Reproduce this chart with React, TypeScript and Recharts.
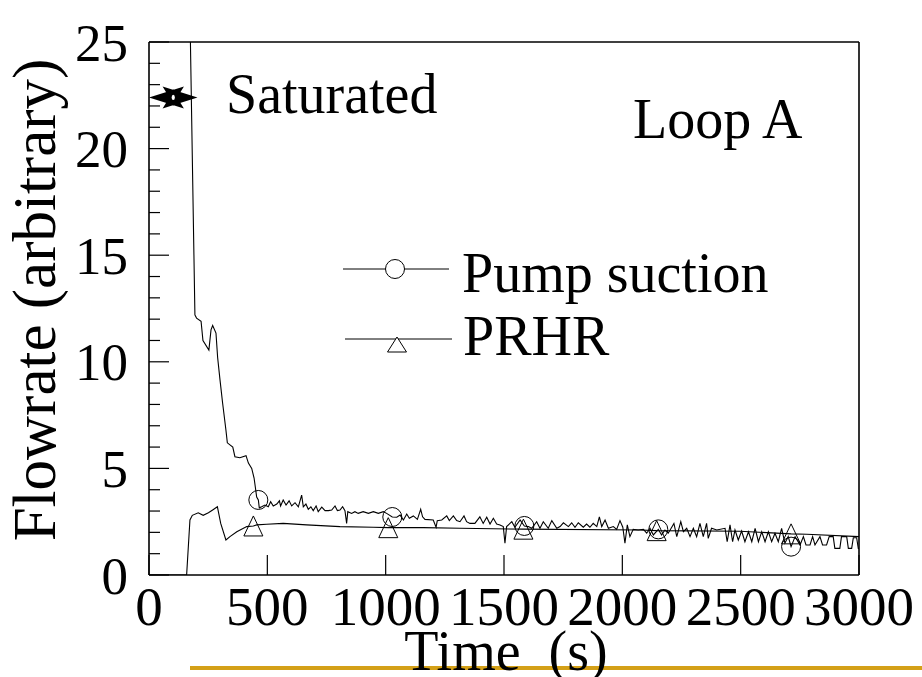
import { LineChart, Line, XAxis, YAxis, ReferenceLine } from 'recharts';

const FONT = '"Liberation Serif", "Times New Roman", serif';

// axis ticks
const timeTicks = [0, 500, 1000, 1500, 2000, 2500, 3000];
const flowTicks = [0, 1, 2, 3, 4, 5, 6, 7, 8, 9, 10, 11, 12, 13, 14, 15, 16, 17, 18, 19, 20, 21, 22, 23, 24, 25];
const flowLabelTicks = [0, 5, 10, 15, 20, 25];

const seriesNames = ['Pump suction', 'PRHR'];

// [time (s), flowrate]
const pumpSuction: [number, number][] = [
  [175, 25], [194, 12.2], [201, 12.05], [220, 11.9], [228, 11.0], [253, 10.55], [262, 11.5], [269, 11.7],
  [283, 11.35], [290, 10.2], [300, 9.15], [311, 8.07], [325, 6.8], [331, 6.2], [354, 6.0], [363, 5.55],
  [384, 5.5], [410, 5.6], [420, 5.25], [434, 5.0], [444, 4.55], [455, 3.66], [462, 3.52], [466, 3.15],
  [476, 3.2], [490, 3.28], [504, 3.2], [514, 3.44], [525, 3.24], [540, 3.33], [551, 3.48], [556, 3.24],
  [567, 3.52], [579, 3.28], [592, 3.48], [603, 3.24], [617, 3.39], [631, 3.2], [645, 3.75], [652, 3.2],
  [663, 3.33], [673, 3.08], [684, 3.2], [694, 3.02], [706, 3.24], [715, 2.97], [730, 3.18], [744, 3.02],
  [758, 3.02], [772, 3.05], [786, 3.24], [796, 3.02], [807, 3.05], [818, 3.2], [828, 3.02], [835, 2.42],
  [840, 2.97], [856, 2.89], [870, 2.97], [884, 2.89], [905, 2.97], [927, 2.89], [948, 2.97], [969, 2.89],
  [990, 2.97], [1004, 2.89], [1028, 2.72], [1047, 2.71], [1061, 2.81], [1075, 2.58], [1089, 2.86], [1100, 2.66],
  [1117, 2.77], [1134, 2.61], [1148, 3.08], [1156, 2.73], [1166, 2.61], [1201, 2.58], [1213, 2.24], [1218, 2.55],
  [1237, 2.58], [1258, 2.77], [1269, 2.55], [1286, 2.77], [1300, 2.55], [1314, 2.5], [1331, 2.77], [1342, 2.5],
  [1356, 2.42], [1377, 2.42], [1398, 2.73], [1412, 2.42], [1427, 2.71], [1441, 2.39], [1455, 2.66], [1469, 2.39],
  [1483, 2.35], [1497, 2.27], [1504, 1.49], [1511, 2.27], [1533, 2.5], [1546, 2.24], [1568, 2.58], [1586, 2.3],
  [1603, 2.27], [1617, 2.19], [1638, 2.5], [1652, 2.19], [1666, 2.5], [1687, 2.19], [1702, 2.55], [1723, 2.19],
  [1737, 2.27], [1751, 2.45], [1772, 2.27], [1786, 2.45], [1800, 2.24], [1814, 2.45], [1835, 2.24], [1849, 2.39],
  [1863, 2.24], [1877, 2.42], [1892, 2.27], [1903, 2.73], [1913, 2.27], [1927, 2.58], [1941, 2.19], [1962, 2.27],
  [1976, 2.14], [1990, 2.55], [2002, 2.24], [2011, 1.49], [2021, 2.35], [2032, 1.8], [2046, 2.14], [2067, 2.11],
  [2089, 2.14], [2103, 1.96], [2117, 2.19], [2131, 1.88], [2152, 2.14], [2166, 1.88], [2180, 2.11], [2194, 1.96],
  [2218, 2.42], [2230, 1.8], [2247, 2.5], [2258, 2.03], [2272, 2.19], [2286, 1.8], [2300, 2.19], [2314, 1.8],
  [2328, 2.42], [2342, 1.8], [2356, 2.42], [2363, 1.72], [2377, 2.19], [2399, 2.11], [2434, 2.19], [2443, 1.56],
  [2455, 2.35], [2466, 1.56], [2476, 2.11], [2490, 1.64], [2504, 2.06], [2518, 1.56], [2533, 2.03], [2547, 1.56],
  [2561, 2.19], [2575, 1.56], [2589, 2.03], [2603, 1.56], [2617, 2.03], [2631, 1.56], [2645, 1.96], [2659, 1.56],
  [2673, 2.19], [2687, 1.49], [2701, 1.8], [2713, 1.33], [2730, 1.8], [2751, 1.41], [2765, 1.8], [2776, 1.41],
  [2793, 1.41], [2804, 1.8], [2814, 1.41], [2835, 1.8], [2846, 1.41], [2863, 1.41], [2874, 1.8], [2891, 1.8],
  [2898, 1.25], [2919, 1.25], [2926, 1.8], [2948, 1.8], [2955, 1.25], [2969, 1.25], [2976, 1.75], [2990, 1.75],
  [2997, 1.25], [3000, 1.25],
];

const prhr: [number, number][] = [
  [0, 0], [159, 0], [173, 2.58], [183, 2.8], [208, 2.92], [229, 2.8], [251, 2.92], [269, 3.05],
  [289, 3.2], [303, 2.42], [325, 1.64], [342, 1.8], [371, 2.03], [413, 2.27], [441, 2.3], [455, 2.35],
  [497, 2.38], [567, 2.42], [666, 2.35], [807, 2.27], [948, 2.24], [1011, 2.22], [1159, 2.22], [1314, 2.19],
  [1582, 2.15], [2075, 2.11], [2145, 2.08], [2497, 2.05], [2713, 1.93], [2779, 1.91], [3000, 1.8],
];

// times where the symbol is drawn on each curve
const pumpMarkerTimes = [462, 1028, 1586, 2152, 2713];
const prhrMarkerTimes = [441, 1011, 1582, 2145, 2713];

// saturated range marker
const saturatedSpan = [0, 205];
const saturatedLevel = 22.4;

const pumpData = pumpSuction.map(([t, flow]) => ({ t, flow }));
const prhrData = prhr.map(([t, flow]) => ({ t, flow }));

const txt = { fontFamily: FONT, fill: '#000' };

const BottomTick = ({ x, y, payload }: any) => (
  <g>
    <line x1={x} y1={y} x2={x} y2={y - 20} stroke="#000" strokeWidth={1.2} />
    <text x={x} y={y + 50} textAnchor="middle" fontSize={55} {...txt}>{payload.value}</text>
  </g>
);

const TopTick = ({ x, y }: any) => (
  <line x1={x} y1={y} x2={x} y2={y + 20} stroke="#000" strokeWidth={1.2} />
);

const LeftTick = ({ x, y, payload }: any) => {
  const major = flowLabelTicks.includes(payload.value);
  return (
    <g>
      <line x1={x} y1={y} x2={x + (major ? 20 : 11)} y2={y} stroke="#000" strokeWidth={1.2} />
      {major && (
        <text x={x - 21} y={y} dy="0.35em" textAnchor="end" fontSize={53} {...txt}>{payload.value}</text>
      )}
    </g>
  );
};

const RightTick = ({ x, y, payload }: any) => {
  const major = flowLabelTicks.includes(payload.value);
  return <line x1={x} y1={y} x2={x - (major ? 20 : 11)} y2={y} stroke="#000" strokeWidth={1.2} />;
};

const renderCircle = (props: any) => {
  const { cx, cy, payload, index } = props;
  if (!pumpMarkerTimes.includes(payload.t)) return <g key={`pc-${index}`} />;
  return <circle key={`pc-${index}`} cx={cx} cy={cy} r={9.5} fill="none" stroke="#000" strokeWidth={1} />;
};

const renderTriangle = (props: any) => {
  const { cx, cy, payload, index } = props;
  if (!prhrMarkerTimes.includes(payload.t)) return <g key={`pt-${index}`} />;
  return (
    <polygon
      key={`pt-${index}`}
      points={`${cx},${cy - 10} ${cx - 9.5},${cy + 10} ${cx + 9.5},${cy + 10}`}
      fill="none"
      stroke="#000"
      strokeWidth={1}
    />
  );
};

// double-headed arrow drawn between the segment ends
const SaturatedArrow = (props: any) => {
  const { x1, y1, x2 } = props;
  const len = x2 - x1;
  const y = y1;
  const left = `${x1},${y} ${x1 + len * 0.72},${y - 11} ${x1 + len * 0.58},${y} ${x1 + len * 0.72},${y + 11}`;
  const right = `${x2},${y} ${x2 - len * 0.72},${y - 11} ${x2 - len * 0.58},${y} ${x2 - len * 0.72},${y + 11}`;
  return (
    <g>
      <polygon points={left} fill="#000" />
      <polygon points={right} fill="#000" />
      <polygon points={`${x1 + len * 0.2},${y} ${x1 + len / 2},${y - 8} ${x2 - len * 0.2},${y} ${x1 + len / 2},${y + 8}`} fill="#000" />
      <ellipse cx={x1 + len / 2} cy={y} rx={1.6} ry={2.6} fill="#fff" />
    </g>
  );
};

export default function App() {
  return (
    <div style={{ position: 'absolute', left: 0, top: 0, width: 922, height: 677, background: '#fff', overflow: 'hidden' }}>
      <LineChart
        width={922}
        height={677}
        margin={{ top: 41, right: 62, bottom: 101, left: 148 }}
      >
        <XAxis
          dataKey="t"
          type="number"
          domain={[0, 3000]}
          ticks={timeTicks}
          interval={0}
          allowDataOverflow
          height={1}
          tickSize={0}
          tickMargin={0}
          tickLine={false}
          axisLine={{ stroke: '#000', strokeWidth: 1.6 }}
          tick={<BottomTick />}
        />
        <XAxis
          xAxisId="top"
          orientation="top"
          dataKey="t"
          type="number"
          domain={[0, 3000]}
          ticks={timeTicks}
          interval={0}
          height={1}
          tickSize={0}
          tickMargin={0}
          tickLine={false}
          axisLine={{ stroke: '#000', strokeWidth: 1.6 }}
          tick={<TopTick />}
        />
        <YAxis
          type="number"
          domain={[0, 25]}
          ticks={flowTicks}
          interval={0}
          allowDataOverflow
          width={1}
          tickSize={0}
          tickMargin={0}
          tickLine={false}
          axisLine={{ stroke: '#000', strokeWidth: 1.6 }}
          tick={<LeftTick />}
        />
        <YAxis
          yAxisId="right"
          orientation="right"
          type="number"
          domain={[0, 25]}
          ticks={flowTicks}
          interval={0}
          width={1}
          tickSize={0}
          tickMargin={0}
          tickLine={false}
          axisLine={{ stroke: '#000', strokeWidth: 1.6 }}
          tick={<RightTick />}
        />
        <ReferenceLine
          segment={[
            { x: saturatedSpan[0], y: saturatedLevel },
            { x: saturatedSpan[1], y: saturatedLevel },
          ]}
          ifOverflow="visible"
          shape={SaturatedArrow}
        />
        <Line
          data={prhrData}
          dataKey="flow"
          name={seriesNames[1]}
          type="linear"
          stroke="#000"
          strokeWidth={1.1}
          dot={renderTriangle}
          activeDot={false}
          isAnimationActive={false}
        />
        <Line
          data={pumpData}
          dataKey="flow"
          name={seriesNames[0]}
          type="linear"
          stroke="#000"
          strokeWidth={1.1}
          dot={renderCircle}
          activeDot={false}
          isAnimationActive={false}
        />
      </LineChart>

      {/* titles, annotations and legend */}
      <svg width={922} height={677} style={{ position: 'absolute', left: 0, top: 0, pointerEvents: 'none' }}>
        <line x1={190} y1={668} x2={922} y2={668} stroke="#d4a017" strokeWidth={4} />
        <text x={506} y={670} textAnchor="middle" fontSize={56} style={{ whiteSpace: 'pre' }} {...txt}>Time  (s)</text>
        <text
          transform="translate(55, 300) rotate(-90)"
          textAnchor="middle"
          fontSize={61}
          {...txt}
        >
          Flowrate (arbitrary)
        </text>
        <text x={226} y={113} fontSize={56} {...txt}>Saturated</text>
        <text x={633} y={138} fontSize={56} {...txt}>Loop A</text>

        <line x1={343} y1={269} x2={449} y2={269} stroke="#000" strokeWidth={1} />
        <circle cx={395} cy={269} r={9.5} fill="#fff" stroke="#000" strokeWidth={1} />
        <text x={462} y={292} fontSize={56} {...txt}>{seriesNames[0]}</text>

        <line x1={345} y1={339} x2={452} y2={339} stroke="#000" strokeWidth={1} />
        <polygon points="397,337 387.5,352 406.5,352" fill="#fff" stroke="#000" strokeWidth={1} />
        <text x={463} y={355} fontSize={56} {...txt}>{seriesNames[1]}</text>
      </svg>
    </div>
  );
}
